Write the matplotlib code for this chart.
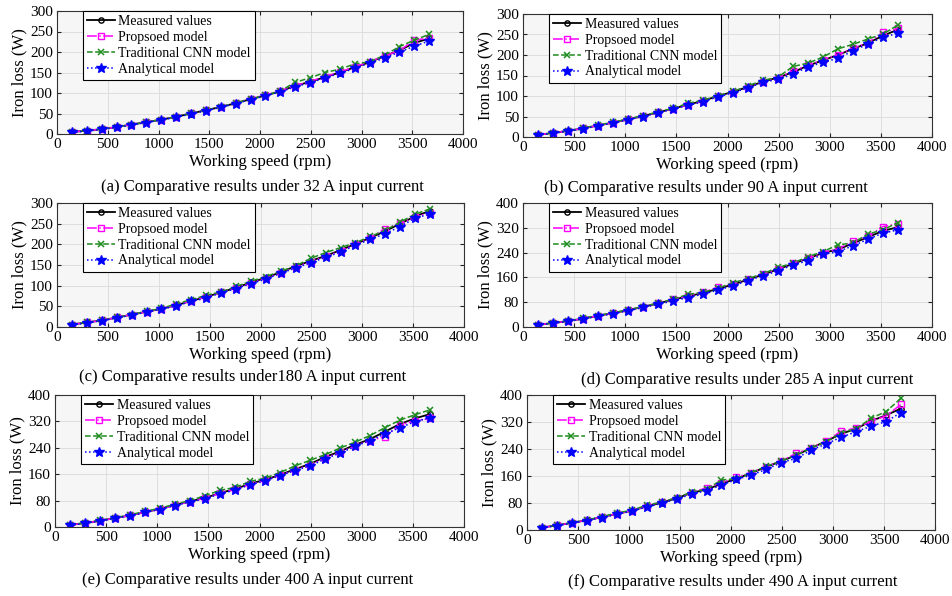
import matplotlib
matplotlib.use("Agg")
import matplotlib.pyplot as plt

plt.rcParams['font.family'] = ['Liberation Serif', 'DejaVu Serif']
plt.rcParams['mathtext.fontset'] = 'stix'

speed = [146.7, 293.3, 440, 586.7, 733.3, 880, 1026.7, 1173.3, 1320, 1466.7,
         1613.3, 1760, 1906.7, 2053.3, 2200, 2346.7, 2493.3, 2640, 2786.7, 2933.3,
         3080, 3226.7, 3373.3, 3520, 3666.7]

# (a) 32 A
meas_a = [5, 8, 12, 17, 23, 29, 35, 42, 50, 58, 66, 75, 85, 94, 104, 118, 127, 139, 150, 163, 175, 190, 204, 222, 233]
prop_a = [5, 8, 12, 17, 23, 29, 35, 42, 51, 58, 66, 76, 86, 95, 105, 118, 128, 140, 151, 164, 176, 191, 203, 229, 234]
cnn_a = [5, 8, 12, 17, 23, 29, 35, 42, 51, 58, 66, 76, 85, 94, 105, 126, 137, 150, 158, 171, 176, 192, 213, 229, 243]
ana_a = [4, 7, 11, 16, 22, 28, 34, 41, 49, 57, 65, 74, 84, 93, 103, 115, 125, 137, 148, 160, 173, 185, 200, 214, 227]

# (b) 90 A
meas_b = [5, 10, 15, 21, 28, 35, 43, 51, 60, 69, 79, 88, 100, 110, 122, 135, 145, 158, 174, 187, 200, 215, 229, 247, 262]
prop_b = [5, 10, 15, 21, 28, 35, 43, 51, 60, 69, 79, 88, 100, 110, 122, 135, 144, 161, 175, 188, 201, 216, 230, 255, 265]
cnn_b = [5, 10, 15, 22, 29, 36, 44, 52, 61, 70, 82, 90, 101, 111, 125, 138, 146, 172, 180, 195, 215, 226, 239, 251, 273]
ana_b = [5, 9, 14, 20, 27, 34, 42, 50, 59, 68, 77, 86, 98, 108, 120, 133, 141, 153, 171, 182, 192, 210, 227, 243, 253]

# (c) 180 A
meas_c = [6, 11, 16, 23, 30, 37, 44, 53, 63, 73, 84, 95, 108, 119, 133, 147, 160, 172, 186, 201, 216, 232, 250, 268, 281]
prop_c = [6, 11, 16, 23, 30, 37, 44, 53, 63, 73, 84, 95, 107, 118, 131, 146, 158, 171, 184, 200, 216, 238, 251, 266, 277]
cnn_c = [6, 11, 16, 23, 30, 38, 45, 56, 66, 77, 85, 98, 111, 122, 135, 148, 166, 180, 192, 204, 219, 234, 254, 273, 286]
ana_c = [5, 10, 15, 22, 29, 36, 43, 51, 62, 70, 83, 93, 105, 116, 130, 143, 155, 169, 181, 198, 212, 226, 243, 264, 273]

# (d) 285 A
meas_d = [7, 13, 19, 27, 36, 45, 54, 65, 76, 88, 99, 110, 123, 137, 153, 169, 186, 204, 221, 239, 250, 270, 290, 310, 322]
prop_d = [7, 13, 19, 27, 36, 45, 54, 65, 77, 89, 100, 112, 128, 139, 154, 170, 187, 206, 222, 240, 252, 276, 292, 324, 333]
cnn_d = [7, 13, 20, 28, 37, 46, 55, 66, 77, 90, 105, 112, 125, 143, 156, 172, 192, 206, 227, 243, 265, 271, 300, 313, 337]
ana_d = [6, 12, 18, 26, 34, 43, 52, 63, 73, 84, 95, 106, 119, 133, 150, 165, 181, 200, 214, 234, 243, 262, 283, 303, 313]

# (e) 400 A
meas_e = [6, 12, 19, 27, 35, 45, 55, 67, 78, 88, 103, 115, 131, 143, 158, 175, 191, 212, 229, 249, 266, 289, 312, 329, 342]
prop_e = [6, 12, 19, 27, 35, 45, 55, 66, 77, 87, 102, 114, 129, 142, 157, 173, 188, 209, 226, 246, 262, 274, 309, 322, 329]
cnn_e = [6, 13, 20, 28, 37, 47, 57, 69, 80, 95, 111, 120, 138, 148, 165, 185, 202, 219, 239, 257, 277, 301, 324, 340, 355]
ana_e = [5, 11, 18, 26, 34, 44, 53, 65, 76, 86, 100, 112, 128, 140, 156, 171, 185, 206, 224, 244, 262, 282, 301, 319, 331]

# (f) 490 A
meas_f = [7, 14, 21, 29, 38, 48, 57, 70, 81, 94, 110, 120, 137, 152, 169, 187, 204, 222, 243, 263, 285, 300, 323, 340, 360]
prop_f = [7, 14, 21, 29, 38, 48, 57, 71, 84, 95, 111, 125, 140, 156, 170, 188, 205, 227, 244, 263, 293, 302, 322, 338, 372]
cnn_f = [7, 14, 22, 30, 39, 51, 58, 74, 82, 96, 112, 121, 148, 152, 170, 189, 204, 222, 243, 262, 288, 300, 331, 351, 390]
ana_f = [6, 13, 20, 28, 37, 46, 56, 68, 79, 92, 106, 117, 133, 150, 163, 180, 200, 212, 237, 255, 275, 291, 308, 321, 348]

titles = ["(a) Comparative results under 32 A input current",
          "(b) Comparative results under 90 A input current",
          "(c) Comparative results under180 A input current",
          "(d) Comparative results under 285 A input current",
          "(e) Comparative results under 400 A input current",
          "(f) Comparative results under 490 A input current"]

labels = ["Measured values", "Propsoed model", "Traditional CNN model", "Analytical model"]

data = [(meas_a, prop_a, cnn_a, ana_a), (meas_b, prop_b, cnn_b, ana_b),
        (meas_c, prop_c, cnn_c, ana_c), (meas_d, prop_d, cnn_d, ana_d),
        (meas_e, prop_e, cnn_e, ana_e), (meas_f, prop_f, cnn_f, ana_f)]

W, H = 952, 596
# axes boxes in pixels: left, top, right, bottom
boxes = [(57, 11, 463, 134), (523, 14, 932, 137),
         (57, 203, 464, 327), (523, 203, 932, 327),
         (55, 395, 464, 527), (527, 395, 935, 530)]
title_dx = [2, -22, -18, 20, -12, 2]
title_dy = [53, 51, 50, 53, 53, 52]
ymax = [300, 300, 300, 400, 400, 400]
ystep = [50, 50, 50, 80, 80, 80]

fig = plt.figure(figsize=(W / 100, H / 100), dpi=100)

for i in range(6):
    l, t, r, b = boxes[i]
    ax = fig.add_axes([l / W, 1 - b / H, (r - l) / W, (b - t) / H])
    ax.set_facecolor('#f6f6f6')
    meas, prop, cnn, ana = data[i]

    ax.plot(speed, meas, color='black', ls='-', lw=1.3, marker='o', ms=3.8,
            mfc='none', mew=1.0, label=labels[0])
    ax.plot(speed, prop, color='#ff00ff', ls='-.', lw=1.1, marker='s', ms=4.5,
            mfc='none', mew=1.0, label=labels[1])
    ax.plot(speed, cnn, color='#1e8c1e', ls='--', lw=1.1, marker='x', ms=4.5,
            mew=1.1, label=labels[2])
    ax.plot(speed, ana, color='#0000ff', ls=':', lw=1.1, marker='*', ms=7,
            label=labels[3])

    ax.set_xlim(0, 4000)
    ax.set_ylim(0, ymax[i])
    ax.set_xticks(range(0, 4001, 500))
    ax.set_yticks(range(0, ymax[i] + 1, ystep[i]))
    ax.grid(True, color='#dadada', lw=0.6)
    ax.set_axisbelow(True)
    ax.tick_params(direction='in', top=True, right=True, length=3,
                   labelsize=11, pad=3, color='#222222')
    for s in ax.spines.values():
        s.set_color('#333333')
        s.set_linewidth(0.8)

    ax.set_xlabel("Working speed (rpm)", fontsize=12, labelpad=2)
    ax.set_ylabel("Iron loss (W)", fontsize=12, labelpad=2)
    ax.annotate(titles[i], xy=(0.5, 0), xycoords='axes fraction',
                xytext=(title_dx[i], -title_dy[i]), textcoords='offset pixels',
                ha='center', va='center', fontsize=12)

    leg = ax.legend(loc='upper left', bbox_to_anchor=(0.064, 1.0), borderaxespad=0,
                    fontsize=10, frameon=True, fancybox=False, edgecolor='black',
                    framealpha=1, handlelength=2.0, handletextpad=0.25,
                    labelspacing=0.2, borderpad=0.3)
    leg.get_frame().set_linewidth(0.8)

plt.savefig("out.png", dpi=100)
